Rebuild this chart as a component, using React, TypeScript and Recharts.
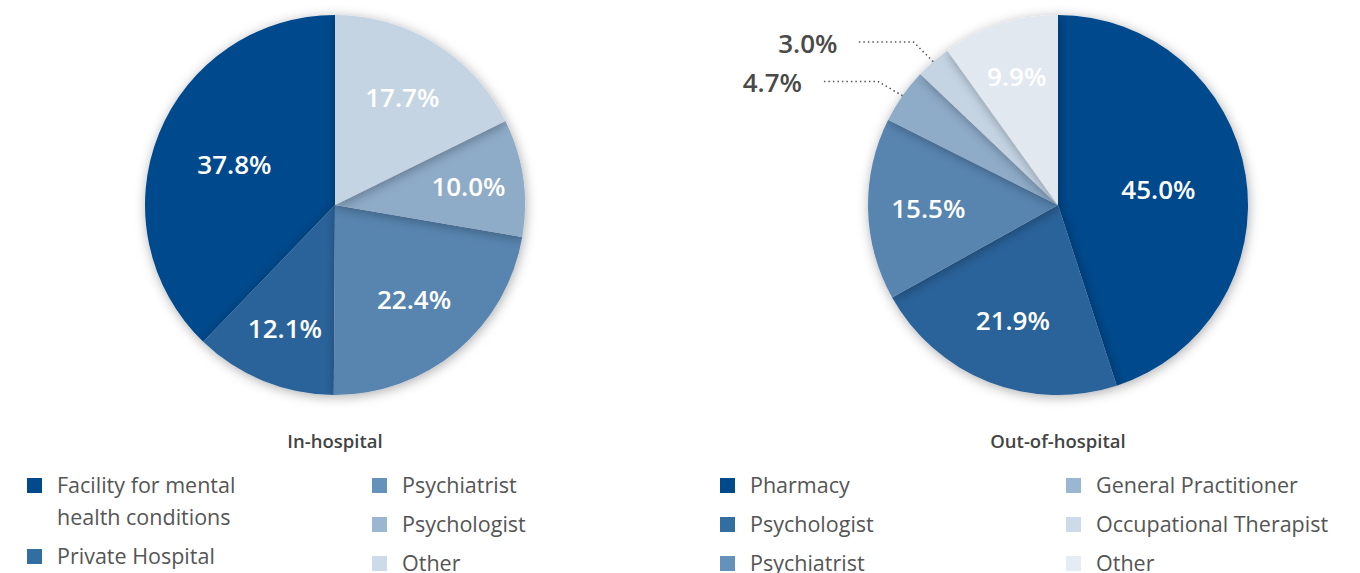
import React from "react";
import { Cell, Pie, PieChart } from "recharts";

const inHospitalNames = [
  "Facility for mental health conditions",
  "Private Hospital",
  "Psychiatrist",
  "Psychologist",
  "Other",
];
const inHospitalValues = [37.8, 12.1, 22.4, 10.0, 17.7];

const outHospitalNames = [
  "Pharmacy",
  "Psychologist",
  "Psychiatrist",
  "General Practitioner",
  "Occupational Therapist",
  "Other",
];
const outHospitalValues = [45.0, 21.9, 15.5, 4.7, 3.0, 9.9];

const SLICE_COLORS = ["#004a8c", "#2c649a", "#5885b0", "#8eabc8", "#c4d4e3", "#e1e8f0"];
const LEGEND_COLORS = ["#004a8c", "#336ea3", "#6592bb", "#9ab6d2", "#cddbe8", "#e5ecf3"];

const inData = inHospitalNames.map((name, i) => ({ name, value: inHospitalValues[i] }));
const outData = outHospitalNames.map((name, i) => ({ name, value: outHospitalValues[i] }));

const FONT = "'Open Sans', sans-serif";
const RADIAN = Math.PI / 180;

function renderLabel(props: any) {
  const { cx, cy, midAngle, outerRadius, percent, value } = props;
  const text = `${Number(value).toFixed(1)}%`;
  const cos = Math.cos(-midAngle * RADIAN);
  const sin = Math.sin(-midAngle * RADIAN);
  if (percent < 0.06) {
    // small slices: label outside with a dotted leader
    const sx = cx + outerRadius * cos;
    const sy = cy + outerRadius * sin;
    const ex = cx + (outerRadius + 30) * cos;
    const ey = cy + (outerRadius + 30) * sin + 3;
    const hx = ex - 55;
    return (
      <g>
        <polyline
          points={`${sx},${sy} ${ex},${ey} ${hx},${ey}`}
          fill="none"
          stroke="#555"
          strokeWidth={1.5}
          strokeDasharray="1.5 3"
        />
        <text
          x={hx - 21}
          y={ey + 1}
          textAnchor="end"
          dominantBaseline="central"
          fill="#4a4a4a"
          fontSize={26}
          fontWeight={600}
          fontFamily={FONT}
        >
          {text}
        </text>
      </g>
    );
  }
  const r = outerRadius * (0.76 - 0.5 * percent);
  return (
    <text
      x={cx + r * cos}
      y={cy + r * sin}
      textAnchor="middle"
      dominantBaseline="central"
      fill="#fff"
      fontSize={26}
      fontWeight={600}
      fontFamily={FONT}
    >
      {text}
    </text>
  );
}

function Legend({ names, colors, columns, left, title, centerX }: any) {
  return (
    <>
      <div
        style={{
          position: "absolute",
          left: centerX - 150,
          width: 300,
          top: 429,
          textAlign: "center",
          fontSize: 18.5,
          fontWeight: 600,
          color: "#444",
          lineHeight: "24px",
        }}
      >
        {title}
      </div>
      {columns.map((col: number[], ci: number) => (
        <div key={ci} style={{ position: "absolute", left: left[ci], top: 469 }}>
          {col.map((idx) => (
            <div key={idx} style={{ position: "relative", marginBottom: 7, paddingLeft: 30 }}>
              <span
                style={{
                  position: "absolute",
                  left: 0,
                  top: 9,
                  width: 15,
                  height: 15,
                  background: colors[idx],
                }}
              />
              <div
                style={{
                  fontSize: 21.5,
                  lineHeight: "32px",
                  color: "#555",
                  whiteSpace: "nowrap",
                }}
              >
                {names[idx].length > 30 ? (
                  <>
                    {names[idx].split(" ").slice(0, 3).join(" ")}
                    <br />
                    {names[idx].split(" ").slice(3).join(" ")}
                  </>
                ) : (
                  names[idx]
                )}
              </div>
            </div>
          ))}
        </div>
      ))}
    </>
  );
}

export default function App() {
  return (
    <div
      style={{
        position: "absolute",
        left: 0,
        top: 0,
        width: 1360,
        height: 573,
        overflow: "hidden",
        background: "#fff",
        fontFamily: FONT,
      }}
    >
      <svg width={0} height={0} style={{ position: "absolute" }}>
        <defs>
          <filter id="sliceShadow" x="-30%" y="-30%" width="160%" height="160%">
            <feDropShadow dx="1" dy="2" stdDeviation="6" floodColor="#000" floodOpacity="0.32" />
          </filter>
        </defs>
      </svg>
      <div style={{ position: "absolute", left: 0, top: 0 }}>
        <PieChart width={1360} height={420} margin={{ top: 0, right: 0, bottom: 0, left: 0 }}>
          <Pie
            data={inData}
            dataKey="value"
            nameKey="name"
            cx={335}
            cy={205}
            outerRadius={190}
            startAngle={90}
            endAngle={450}
            stroke="none"
            labelLine={false}
            label={renderLabel}
            isAnimationActive={false}
          >
            {inData.map((d, i) => (
              <Cell key={d.name} fill={SLICE_COLORS[i]} filter="url(#sliceShadow)" />
            ))}
          </Pie>
          <Pie
            data={outData}
            dataKey="value"
            nameKey="name"
            cx={1058}
            cy={205}
            outerRadius={190}
            startAngle={90}
            endAngle={-270}
            stroke="none"
            labelLine={false}
            label={renderLabel}
            isAnimationActive={false}
          >
            {outData.map((d, i) => (
              <Cell key={d.name} fill={SLICE_COLORS[i]} filter="url(#sliceShadow)" />
            ))}
          </Pie>
        </PieChart>
      </div>
      <Legend
        names={inHospitalNames}
        colors={LEGEND_COLORS}
        columns={[[0, 1], [2, 3, 4]]}
        left={[27, 372]}
        title="In-hospital"
        centerX={335}
      />
      <Legend
        names={outHospitalNames}
        colors={LEGEND_COLORS}
        columns={[[0, 1, 2], [3, 4, 5]]}
        left={[720, 1066]}
        title="Out-of-hospital"
        centerX={1058}
      />
    </div>
  );
}
